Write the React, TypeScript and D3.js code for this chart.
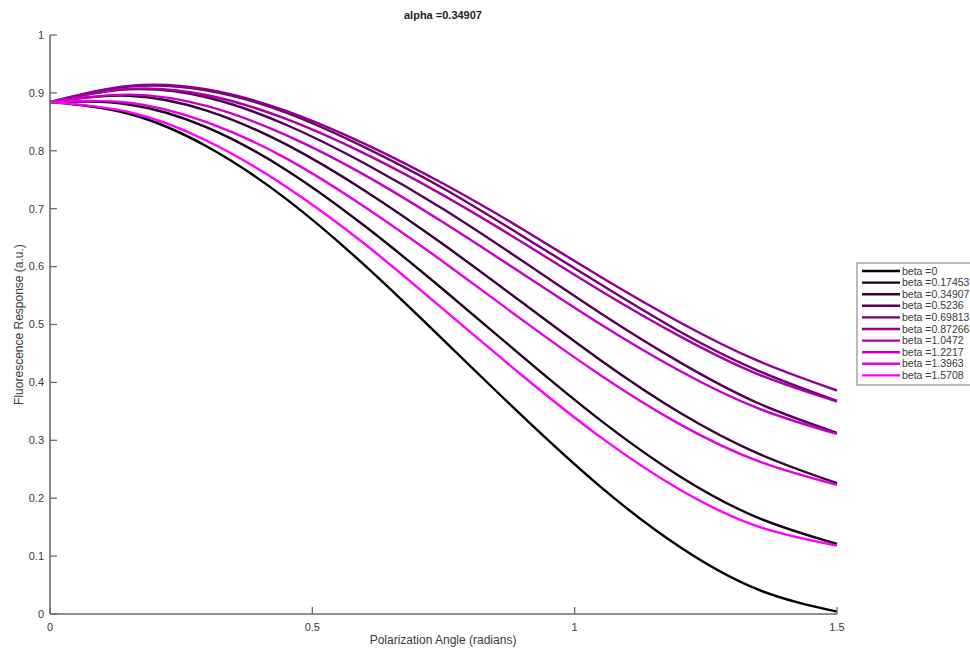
import React from "react";
import * as d3 from "d3";

// Polarization angle samples (radians)
const theta = [0, 0.15, 0.3, 0.45, 0.6, 0.75, 0.9, 1.05, 1.2, 1.35, 1.5];

// Series values (one per beta)
const beta0 = [0.884, 0.864, 0.807, 0.717, 0.602, 0.473, 0.342, 0.219, 0.116, 0.042, 0.004];
const beta017453 = [0.884, 0.880, 0.840, 0.767, 0.670, 0.560, 0.445, 0.334, 0.238, 0.166, 0.121];
const beta034907 = [0.884, 0.895, 0.869, 0.811, 0.731, 0.638, 0.538, 0.438, 0.348, 0.277, 0.226];
const beta05236 = [0.884, 0.906, 0.892, 0.845, 0.778, 0.699, 0.610, 0.519, 0.435, 0.364, 0.313];
const beta069813 = [0.884, 0.911, 0.904, 0.866, 0.806, 0.735, 0.653, 0.569, 0.488, 0.420, 0.368];
const beta087266 = [0.884, 0.912, 0.906, 0.869, 0.812, 0.743, 0.665, 0.582, 0.504, 0.437, 0.386];
const beta10472 = [0.884, 0.907, 0.896, 0.855, 0.795, 0.723, 0.642, 0.558, 0.480, 0.414, 0.367];
const beta12217 = [0.884, 0.897, 0.877, 0.827, 0.758, 0.676, 0.588, 0.500, 0.420, 0.355, 0.311];
const beta13963 = [0.884, 0.883, 0.849, 0.787, 0.703, 0.608, 0.508, 0.412, 0.328, 0.264, 0.223];
const beta15708 = [0.884, 0.867, 0.817, 0.738, 0.639, 0.526, 0.412, 0.305, 0.215, 0.151, 0.118];

const legendLabels = [
  "beta =0",
  "beta =0.17453",
  "beta =0.34907",
  "beta =0.5236",
  "beta =0.69813",
  "beta =0.87266",
  "beta =1.0472",
  "beta =1.2217",
  "beta =1.3963",
  "beta =1.5708",
];

const seriesValues = [
  beta0,
  beta017453,
  beta034907,
  beta05236,
  beta069813,
  beta087266,
  beta10472,
  beta12217,
  beta13963,
  beta15708,
];

const xTicks = [0, 0.5, 1, 1.5];
const yTicks = [0, 0.1, 0.2, 0.3, 0.4, 0.5, 0.6, 0.7, 0.8, 0.9, 1];

const titleText = "alpha =0.34907";
const xLabel = "Polarization Angle (radians)";
const yLabel = "Fluorescence Response (a.u.)";

export default function App() {
  const W = 970;
  const H = 652;
  const left = 50;
  const right = 837;
  const top = 35;
  const bottom = 614;

  const x = d3.scaleLinear().domain([0, 1.5]).range([left, right]);
  const y = d3.scaleLinear().domain([0, 1]).range([bottom, top]);
  const color = (i: number) => d3.interpolateRgb("#000000", "#ff00ff")(i / 9);

  const line = d3
    .line<[number, number]>()
    .x((d) => x(d[0]))
    .y((d) => y(d[1]))
    .curve(d3.curveNatural);

  const font = "'Liberation Sans', Arial, Helvetica, sans-serif";
  const axisColor = "#6b6b6b";
  const textColor = "#3a3a3a";

  const legX = 857;
  const legY = 263;
  const rowH = 11.6;
  const legH = rowH * legendLabels.length + 6;

  return (
    <svg
      width={W}
      height={H}
      style={{ position: "absolute", left: 0, top: 0, background: "#fff" }}
      fontFamily={font}
    >
      <rect x={0} y={0} width={W} height={H} fill="#fff" />
      {/* title */}
      <text x={443} y={19} textAnchor="middle" fontSize={11} fontWeight="bold" fill="#222">
        {titleText}
      </text>

      {/* curves */}
      {seriesValues.map((vals, i) => (
        <path
          key={i}
          d={line(theta.map((t, j) => [t, vals[j]] as [number, number])) || ""}
          fill="none"
          stroke={color(i)}
          strokeWidth={2.4}
        />
      ))}

      {/* axes */}
      <line x1={left} x2={left} y1={top} y2={bottom} stroke={axisColor} strokeWidth={1.6} />
      <line x1={left} x2={right} y1={bottom} y2={bottom} stroke={axisColor} strokeWidth={1.6} />
      {yTicks.map((t) => (
        <g key={"y" + t}>
          <line x1={left} x2={left + 7} y1={y(t)} y2={y(t)} stroke={axisColor} strokeWidth={1.3} />
          <text
            x={left - 6}
            y={y(t)}
            dy="0.35em"
            textAnchor="end"
            fontSize={11}
            fill={textColor}
          >
            {String(t)}
          </text>
        </g>
      ))}
      {xTicks.map((t) => (
        <g key={"x" + t}>
          <line x1={x(t)} x2={x(t)} y1={bottom} y2={bottom - 7} stroke={axisColor} strokeWidth={1.3} />
          <text x={x(t)} y={bottom + 17} textAnchor="middle" fontSize={11} fill={textColor}>
            {String(t)}
          </text>
        </g>
      ))}
      <text x={443} y={644} textAnchor="middle" fontSize={12} fill={textColor}>
        {xLabel}
      </text>
      <text
        transform={`translate(23, ${(top + bottom) / 2}) rotate(-90)`}
        textAnchor="middle"
        fontSize={12}
        fill={textColor}
      >
        {yLabel}
      </text>

      {/* legend */}
      <rect x={legX} y={legY} width={120} height={legH} fill="#fff" stroke="#777" strokeWidth={1} />
      {legendLabels.map((lab, i) => {
        const ry = legY + 8 + i * rowH;
        return (
          <g key={lab}>
            <line x1={legX + 5} x2={legX + 43} y1={ry} y2={ry} stroke={color(i)} strokeWidth={2.4} />
            <text x={legX + 45} y={ry} dy="0.35em" fontSize={10.5} fill={textColor}>
              {lab}
            </text>
          </g>
        );
      })}
    </svg>
  );
}
